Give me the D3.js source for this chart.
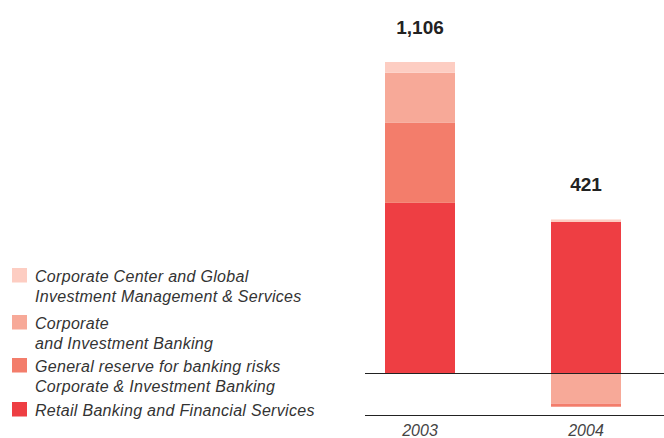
<!DOCTYPE html>
<html>
<head>
<meta charset="utf-8">
<script src="https://cdn.jsdelivr.net/npm/d3@7"></script>
<style>
  html, body { margin: 0; padding: 0; background: #fff; }
  svg { display: block; font-family: "Liberation Sans", Arial, Helvetica, sans-serif; }
</style>
</head>
<body>
<svg id="chart" width="664" height="438"></svg>
<script>
// ---- data ----
const years = ["2003", "2004"];
const totals = [1106, 421];
const seriesNames = [
  "Retail Banking and Financial Services",
  "General reserve for banking risks Corporate & Investment Banking",
  "Corporate and Investment Banking",
  "Corporate Center and Global Investment Management & Services"
];
const retail = [605, 537];
const generalReserve = [286, -11];
const corporateInvestment = [177, -109];
const corporateCenter = [38, 9];

// legend labels (as wrapped in the picture), top to bottom
const legendLabels = [
  ["Corporate Center and Global", "Investment Management & Services"],
  ["Corporate", "and Investment Banking"],
  ["General reserve for banking risks", "Corporate & Investment Banking"],
  ["Retail Banking and Financial Services"]
];

// ---- styles ----
const colors = {
  retail: "#EE3E43",
  general: "#F37D6B",
  cib: "#F7A998",
  center: "#FDCDC2"
};

const svg = d3.select("#chart");

const x = d3.scalePoint().domain(years).range([420, 586]);
const barW = 70;
const y = d3.scaleLinear().domain([-153, 1106]).range([416, 62]);

const posKeys = [
  { v: retail, c: colors.retail },
  { v: generalReserve, c: colors.general },
  { v: corporateInvestment, c: colors.cib },
  { v: corporateCenter, c: colors.center }
];
const negKeys = [
  { v: corporateInvestment, c: colors.cib },
  { v: generalReserve, c: colors.general }
];

const rects = [];
years.forEach((yr, i) => {
  let pos = 0;
  posKeys.forEach(k => {
    const val = k.v[i];
    if (val > 0) { rects.push({ yr, y0: pos, y1: pos + val, c: k.c }); pos += val; }
  });
  let neg = 0;
  negKeys.forEach(k => {
    const val = k.v[i];
    if (val < 0) { rects.push({ yr, y0: neg + val, y1: neg, c: k.c }); neg += val; }
  });
});

svg.append("g").selectAll("rect").data(rects).join("rect")
  .attr("x", d => x(d.yr) - barW / 2)
  .attr("width", barW)
  .attr("y", d => y(d.y1))
  .attr("height", d => y(d.y0) - y(d.y1))
  .attr("fill", d => d.c);

// zero line and bottom line
svg.append("line")
  .attr("x1", 365).attr("x2", 664)
  .attr("y1", Math.round(y(0)) + 0.5).attr("y2", Math.round(y(0)) + 0.5)
  .attr("stroke", "#222").attr("stroke-width", 1);
svg.append("line")
  .attr("x1", 365).attr("x2", 664)
  .attr("y1", 415.5).attr("y2", 415.5)
  .attr("stroke", "#222").attr("stroke-width", 1);

// totals labels
const posTop = years.map((yr, i) => d3.sum(posKeys, k => Math.max(0, k.v[i])));
svg.append("g").selectAll("text").data(years).join("text")
  .attr("x", d => x(d))
  .attr("y", (d, i) => y(posTop[i]) - 28)
  .attr("text-anchor", "middle")
  .attr("font-size", 19)
  .attr("font-weight", "bold")
  .attr("fill", "#222")
  .text((d, i) => d3.format(",")(totals[i]));

// year labels
svg.append("g").selectAll("text").data(years).join("text")
  .attr("x", d => x(d))
  .attr("y", 436)
  .attr("text-anchor", "middle")
  .attr("font-size", 16)
  .attr("font-style", "italic")
  .attr("fill", "#444")
  .text(d => d);

// legend
const legendColors = [colors.center, colors.cib, colors.general, colors.retail];
const legendTop = [268, 315, 358, 402];
const lg = svg.append("g");
legendLabels.forEach((lines, i) => {
  lg.append("rect")
    .attr("x", 12).attr("y", legendTop[i])
    .attr("width", 15).attr("height", 14.5)
    .attr("fill", legendColors[i]);
  const t = lg.append("text")
    .attr("x", 35).attr("y", legendTop[i] + 14)
    .attr("font-size", 16)
    .attr("letter-spacing", 0.3)
    .attr("font-style", "italic")
    .attr("fill", "#333");
  lines.forEach((ln, j) => {
    t.append("tspan").attr("x", 35).attr("dy", j === 0 ? 0 : 20).text(ln);
  });
});
</script>
</body>
</html>
